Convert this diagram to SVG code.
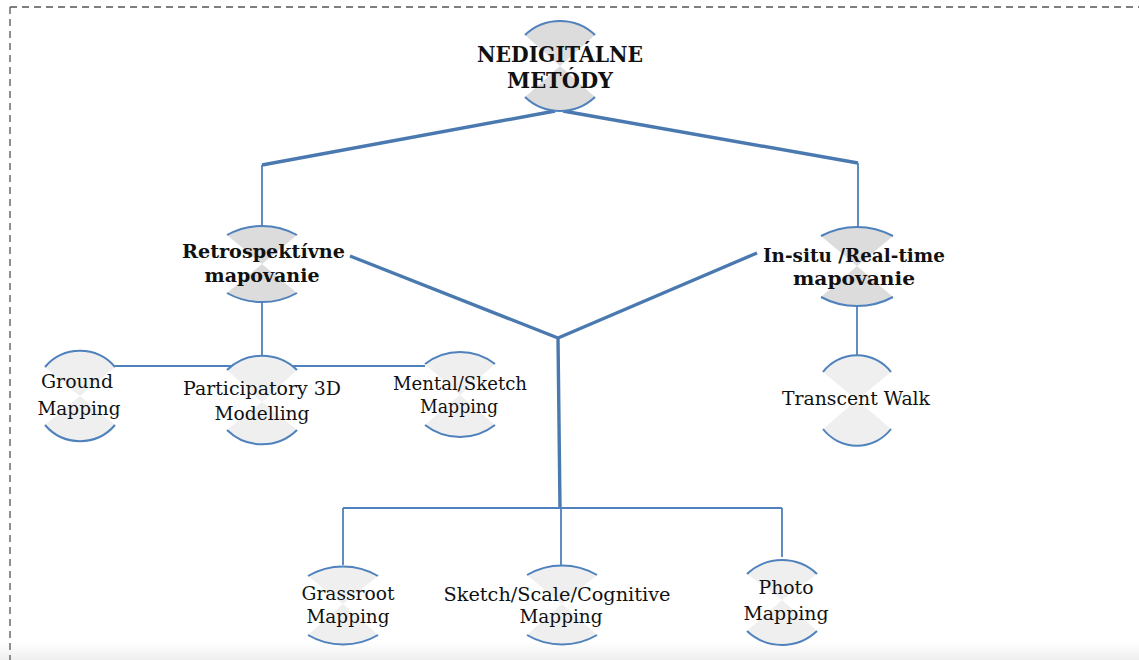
<svg xmlns="http://www.w3.org/2000/svg" width="1139" height="660" viewBox="0 0 1139 660">
  <defs>
    <linearGradient id="footShade" x1="0" y1="0" x2="0" y2="1">
      <stop offset="0" stop-color="#ffffff"/>
      <stop offset="1" stop-color="#efefef"/>
    </linearGradient>
  </defs>
  <style>
    .frame { fill: none; stroke: #555; stroke-width: 1.3; stroke-dasharray: 7 5; }
    .thick { fill: none; stroke: #4a79b0; stroke-width: 3.4; stroke-linejoin: round; }
    .thin { fill: none; stroke: #4f81bd; stroke-width: 1.8; }
    .arc { fill: none; stroke: #4f81bd; stroke-width: 2; }
    .wedge-main { fill: #dcdcdc; }
    .wedge { fill: #efefef; }
    .t { font-family: "DejaVu Serif", "Liberation Serif", serif; fill: #111; text-anchor: middle; }
    .b { font-weight: bold; }
  </style>

  <!-- page background and soft bottom edge -->
  <rect x="0" y="0" width="1139" height="660" fill="#ffffff"/>
  <rect x="0" y="642" width="1139" height="18" fill="url(#footShade)"/>

  <!-- dashed frame (top and left edges) -->
  <path class="frame" d="M10 7 H1139 M10 7 V660"/>

  <!-- connectors -->
  <g id="connectors">
    <path class="thick" d="M262 165 L555 111 M563 111 L858 163"/>
    <path class="thin" d="M262 165 V226 M858 163 V228"/>
    <path class="thin" d="M262 302 V357 M115 366 H425"/>
    <path class="thin" d="M857 304 V355"/>
    <path class="thick" d="M350 256 L558 338 L757 253 M558 338 L560 508"/>
    <path class="thin" d="M343 508 H782 M343 508 V565 M561 508 V565 M782 508 V557"/>
  </g>

  <!-- root -->
  <g id="node-root">
    <path class="wedge-main" d="M560 66 L525 35 A50.75 50.75 0 0 1 595 35 Z M560 66 L525 97 A50.75 50.75 0 0 0 595 97 Z"/>
    <path class="arc" d="M525 35 A50.75 50.75 0 0 1 595 35 M525 97 A50.75 50.75 0 0 0 595 97"/>
    <text class="t b" x="560" y="62" font-size="23" textLength="166" lengthAdjust="spacingAndGlyphs">NEDIGITÁLNE</text>
    <text class="t b" x="560" y="88" font-size="23" textLength="106" lengthAdjust="spacingAndGlyphs">METÓDY</text>
  </g>

  <!-- second level -->
  <g id="node-retro">
    <path class="wedge-main" d="M262 264 L227 235 A72 72 0 0 1 297 235 Z M262 264 L227 293 A72 72 0 0 0 297 293 Z"/>
    <path class="arc" d="M227 235 A72 72 0 0 1 297 235 M227 293 A72 72 0 0 0 297 293"/>
    <text class="t b" x="263.5" y="258" font-size="18" textLength="163" lengthAdjust="spacingAndGlyphs">Retrospektívne</text>
    <text class="t b" x="262" y="282" font-size="18" textLength="115" lengthAdjust="spacingAndGlyphs">mapovanie</text>
  </g>

  <g id="node-insitu">
    <path class="wedge-main" d="M857 266 L821 236 A76 76 0 0 1 893 236 Z M857 266 L821 297 A76 76 0 0 0 893 297 Z"/>
    <path class="arc" d="M821 236 A76 76 0 0 1 893 236 M821 297 A76 76 0 0 0 893 297"/>
    <text class="t b" x="854" y="262" font-size="18" textLength="182" lengthAdjust="spacingAndGlyphs">In-situ /Real-time</text>
    <text class="t b" x="854" y="285" font-size="18" textLength="122" lengthAdjust="spacingAndGlyphs">mapovanie</text>
  </g>

  <!-- retrospective methods -->
  <g id="node-ground">
    <path class="wedge" d="M80 396 L45 367 A46 46 0 0 1 115 367 Z M80 396 L45 425 A46 46 0 0 0 115 425 Z"/>
    <path class="arc" d="M45 367 A46 46 0 0 1 115 367 M45 425 A46 46 0 0 0 115 425"/>
    <text class="t" x="77" y="388" font-size="19" textLength="72" lengthAdjust="spacingAndGlyphs">Ground</text>
    <text class="t" x="79" y="415" font-size="19" textLength="83" lengthAdjust="spacingAndGlyphs">Mapping</text>
  </g>

  <g id="node-p3d">
    <path class="wedge" d="M262 402 L227 370 A50 50 0 0 1 297 370 Z M262 402 L227 430 A50 50 0 0 0 297 430 Z"/>
    <path class="arc" d="M227 370 A50 50 0 0 1 297 370 M227 430 A50 50 0 0 0 297 430"/>
    <text class="t" x="262" y="395" font-size="19" textLength="158" lengthAdjust="spacingAndGlyphs">Participatory 3D</text>
    <text class="t" x="262" y="420" font-size="19" textLength="95" lengthAdjust="spacingAndGlyphs">Modelling</text>
  </g>

  <g id="node-mental">
    <path class="wedge" d="M460 395 L425 364 A57 57 0 0 1 495 364 Z M460 395 L425 425 A57 57 0 0 0 495 425 Z"/>
    <path class="arc" d="M425 364 A57 57 0 0 1 495 364 M425 425 A57 57 0 0 0 495 425"/>
    <text class="t" x="460" y="390" font-size="18" textLength="134" lengthAdjust="spacingAndGlyphs">Mental/Sketch</text>
    <text class="t" x="459" y="413" font-size="18" textLength="78" lengthAdjust="spacingAndGlyphs">Mapping</text>
  </g>

  <!-- in-situ method -->
  <g id="node-walk">
    <path class="wedge" d="M857 400 L823 372 A43 43 0 0 1 891 372 Z M857 400 L823 429 A43 43 0 0 0 891 429 Z"/>
    <path class="arc" d="M823 372 A43 43 0 0 1 891 372 M823 429 A43 43 0 0 0 891 429"/>
    <text class="t" x="856" y="405" font-size="19" textLength="148" lengthAdjust="spacingAndGlyphs">Transcent Walk</text>
  </g>

  <!-- shared methods -->
  <g id="node-grassroot">
    <path class="wedge" d="M343 604 L308 576 A69 69 0 0 1 378 576 Z M343 604 L308 635 A69 69 0 0 0 378 635 Z"/>
    <path class="arc" d="M308 576 A69 69 0 0 1 378 576 M308 635 A69 69 0 0 0 378 635"/>
    <text class="t" x="348" y="600" font-size="19" textLength="93" lengthAdjust="spacingAndGlyphs">Grassroot</text>
    <text class="t" x="348" y="623" font-size="19" textLength="83" lengthAdjust="spacingAndGlyphs">Mapping</text>
  </g>

  <g id="node-sketch">
    <path class="wedge" d="M562 604 L527 575 A69 69 0 0 1 597 575 Z M562 604 L527 635 A69 69 0 0 0 597 635 Z"/>
    <path class="arc" d="M527 575 A69 69 0 0 1 597 575 M527 635 A69 69 0 0 0 597 635"/>
    <text class="t" x="557" y="601" font-size="19" textLength="227" lengthAdjust="spacingAndGlyphs">Sketch/Scale/Cognitive</text>
    <text class="t" x="561" y="623" font-size="19" textLength="83" lengthAdjust="spacingAndGlyphs">Mapping</text>
  </g>

  <g id="node-photo">
    <path class="wedge" d="M782 600 L747 574 A51 51 0 0 1 817 574 Z M782 600 L747 631 A51 51 0 0 0 817 631 Z"/>
    <path class="arc" d="M747 574 A51 51 0 0 1 817 574 M747 631 A51 51 0 0 0 817 631"/>
    <text class="t" x="786" y="594" font-size="19" textLength="55" lengthAdjust="spacingAndGlyphs">Photo</text>
    <text class="t" x="786" y="620" font-size="19" textLength="85" lengthAdjust="spacingAndGlyphs">Mapping</text>
  </g>
</svg>
